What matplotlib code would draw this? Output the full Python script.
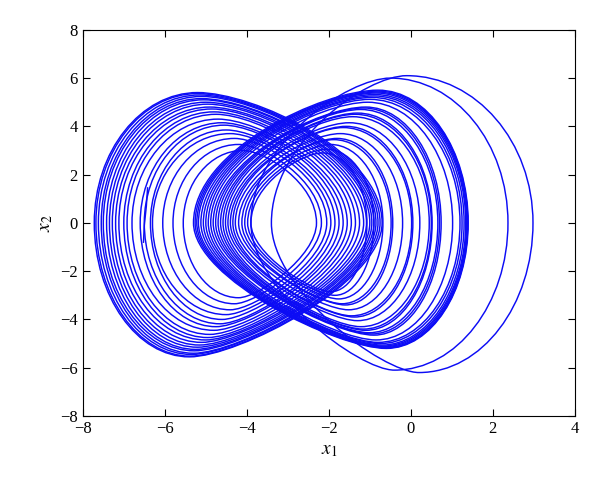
import matplotlib
matplotlib.use("Agg")
import matplotlib.pyplot as plt
from matplotlib.path import Path
from matplotlib.patches import PathPatch

# loops around the left lobe (outer -> inner)
left_L = [-7.72, -7.68, -7.62, -7.55, -7.5, -7.42, -7.35, -7.28, -7.2, -7.12,
          -7.0, -6.92, -6.8, -6.6, -6.5, -6.35, -6.3, -6.05, -5.8, -5.55]
left_R = [-0.7, -0.75, -0.8, -0.85, -0.9, -0.95, -1.0, -1.08, -1.15, -1.25,
          -1.35, -1.45, -1.55, -1.65, -1.75, -1.85, -1.95, -2.05, -2.18, -2.3]
left_top_x = [-5.2, -5.2, -5.15, -5.1, -5.1, -5.05, -5.0, -4.95, -4.9, -4.85,
              -4.8, -4.75, -4.7, -4.6, -4.55, -4.5, -4.4, -4.3, -4.2, -4.1]
left_top_y = [5.4, 5.36, 5.3, 5.24, 5.15, 5.1, 5.0, 4.92, 4.8, 4.72,
              4.6, 4.5, 4.3, 4.15, 4.05, 3.85, 3.7, 3.5, 3.25, 3.0]
left_bot_x = [-5.4, -5.38, -5.35, -5.3, -5.28, -5.25, -5.2, -5.15, -5.1, -5.0,
              -4.95, -4.9, -4.8, -4.75, -4.65, -4.6, -4.5, -4.4, -4.3, -4.2]
left_bot_y = [-5.55, -5.52, -5.45, -5.4, -5.3, -5.24, -5.15, -5.06, -4.95, -4.85,
              -4.75, -4.62, -4.45, -4.3, -4.18, -4.0, -3.8, -3.6, -3.35, -3.1]

# loops around the right lobe (outer -> inner)
right_L = [-5.3, -5.26, -5.22, -5.18, -5.12, -5.06, -5.0, -4.94, -4.88, -4.82, -4.76, -4.7,
           -4.64, -4.58, -4.52, -4.46, -4.4, -4.34, -4.28, -4.2, -4.12, -4.05, -3.98, -3.9]
right_R = [1.4, 1.39, 1.38, 1.36, 1.34, 1.3, 1.25, 1.2, 1.02, 0.74, 0.7, 0.66,
           0.52, 0.5, 0.45, 0.22, 0.05, 0.02, -0.2, -0.44, -0.48, -0.68, -0.9, -1.07]
right_top_x = [-0.8, -0.8, -0.82, -0.85, -0.88, -0.9, -0.95, -1.0, -1.05, -1.1, -1.15, -1.22,
               -1.3, -1.36, -1.42, -1.5, -1.58, -1.65, -1.72, -1.8, -1.88, -1.96, -2.05, -2.15]
right_top_y = [5.5, 5.46, 5.42, 5.38, 5.32, 5.26, 5.2, 5.12, 5.0, 4.8, 4.76, 4.7,
               4.55, 4.5, 4.4, 4.15, 4.0, 3.95, 3.7, 3.5, 3.45, 3.25, 3.05, 2.9]
right_bot_x = [-0.6, -0.6, -0.62, -0.65, -0.68, -0.7, -0.75, -0.8, -0.85, -0.9, -0.95, -1.02,
               -1.1, -1.16, -1.22, -1.3, -1.38, -1.45, -1.52, -1.6, -1.68, -1.76, -1.85, -1.95]
right_bot_y = [-5.2, -5.18, -5.16, -5.13, -5.1, -5.06, -5.0, -4.95, -4.85, -4.65, -4.6, -4.55,
               -4.45, -4.4, -4.3, -4.05, -3.9, -3.85, -3.6, -3.4, -3.35, -3.15, -3.0, -2.85]

# two big transient loops on the right
big_L = [-3.4, -3.9]
big_R = [2.98, 2.37]
big_top_x = [-0.1, -0.5]
big_top_y = [6.1, 6.0]
big_bot_x = [0.2, -0.4]
big_bot_y = [-6.2, -6.1]

# start of the trajectory
start_x = [-6.42, -6.45, -6.5, -6.52]
start_y = [1.45, 0.7, -0.1, -0.8]

# bezier handle factors per quarter (left->top, top->right, right->bottom, bottom->left)
k_left = [(0.55, 0.55), (0.3, 0.55), (0.45, 0.25), (0.55, 0.55)]
k_right = [(0.55, 0.3), (0.55, 0.55), (0.55, 0.55), (0.25, 0.45)]

blue = "#0c0cf5"


def loop(L, R, tx, ty, bx, by, k):
    v = [(L, 0)]
    v += [(L, k[0][0] * ty), (tx - k[0][1] * (tx - L), ty), (tx, ty)]
    v += [(tx + k[1][0] * (R - tx), ty), (R, k[1][1] * ty), (R, 0)]
    v += [(R, k[2][0] * by), (bx + k[2][1] * (R - bx), by), (bx, by)]
    v += [(bx - k[3][0] * (bx - L), by), (L, k[3][1] * by), (L, 0)]
    codes = [Path.MOVETO] + [Path.CURVE4] * 12
    return PathPatch(Path(v, codes), fill=False, edgecolor=blue, lw=1.05)


plt.rcParams["font.family"] = ["Liberation Serif", "DejaVu Serif"]
plt.rcParams["mathtext.fontset"] = "stix"

fig = plt.figure(figsize=(6, 4.97), dpi=100)
ax = fig.add_axes([0.138, 0.163, 0.82, 0.777])

for i in range(len(left_L)):
    ax.add_patch(loop(left_L[i], left_R[i], left_top_x[i], left_top_y[i],
                      left_bot_x[i], left_bot_y[i], k_left))
for i in range(len(right_L)):
    ax.add_patch(loop(right_L[i], right_R[i], right_top_x[i], right_top_y[i],
                      right_bot_x[i], right_bot_y[i], k_right))
for i in range(len(big_L)):
    ax.add_patch(loop(big_L[i], big_R[i], big_top_x[i], big_top_y[i],
                      big_bot_x[i], big_bot_y[i], k_right))
ax.plot(start_x, start_y, color=blue, lw=1.05)

ax.set_xlim(-8, 4)
ax.set_ylim(-8, 8)
ax.set_xticks(range(-8, 5, 2))
ax.set_yticks(range(-8, 9, 2))
ax.tick_params(direction="in", top=True, right=True, length=5, labelsize=12)
ax.set_xlabel(r"$x_1$", fontsize=14)
ax.set_ylabel(r"$x_2$", fontsize=14)

fig.savefig("out.png", dpi=100)
